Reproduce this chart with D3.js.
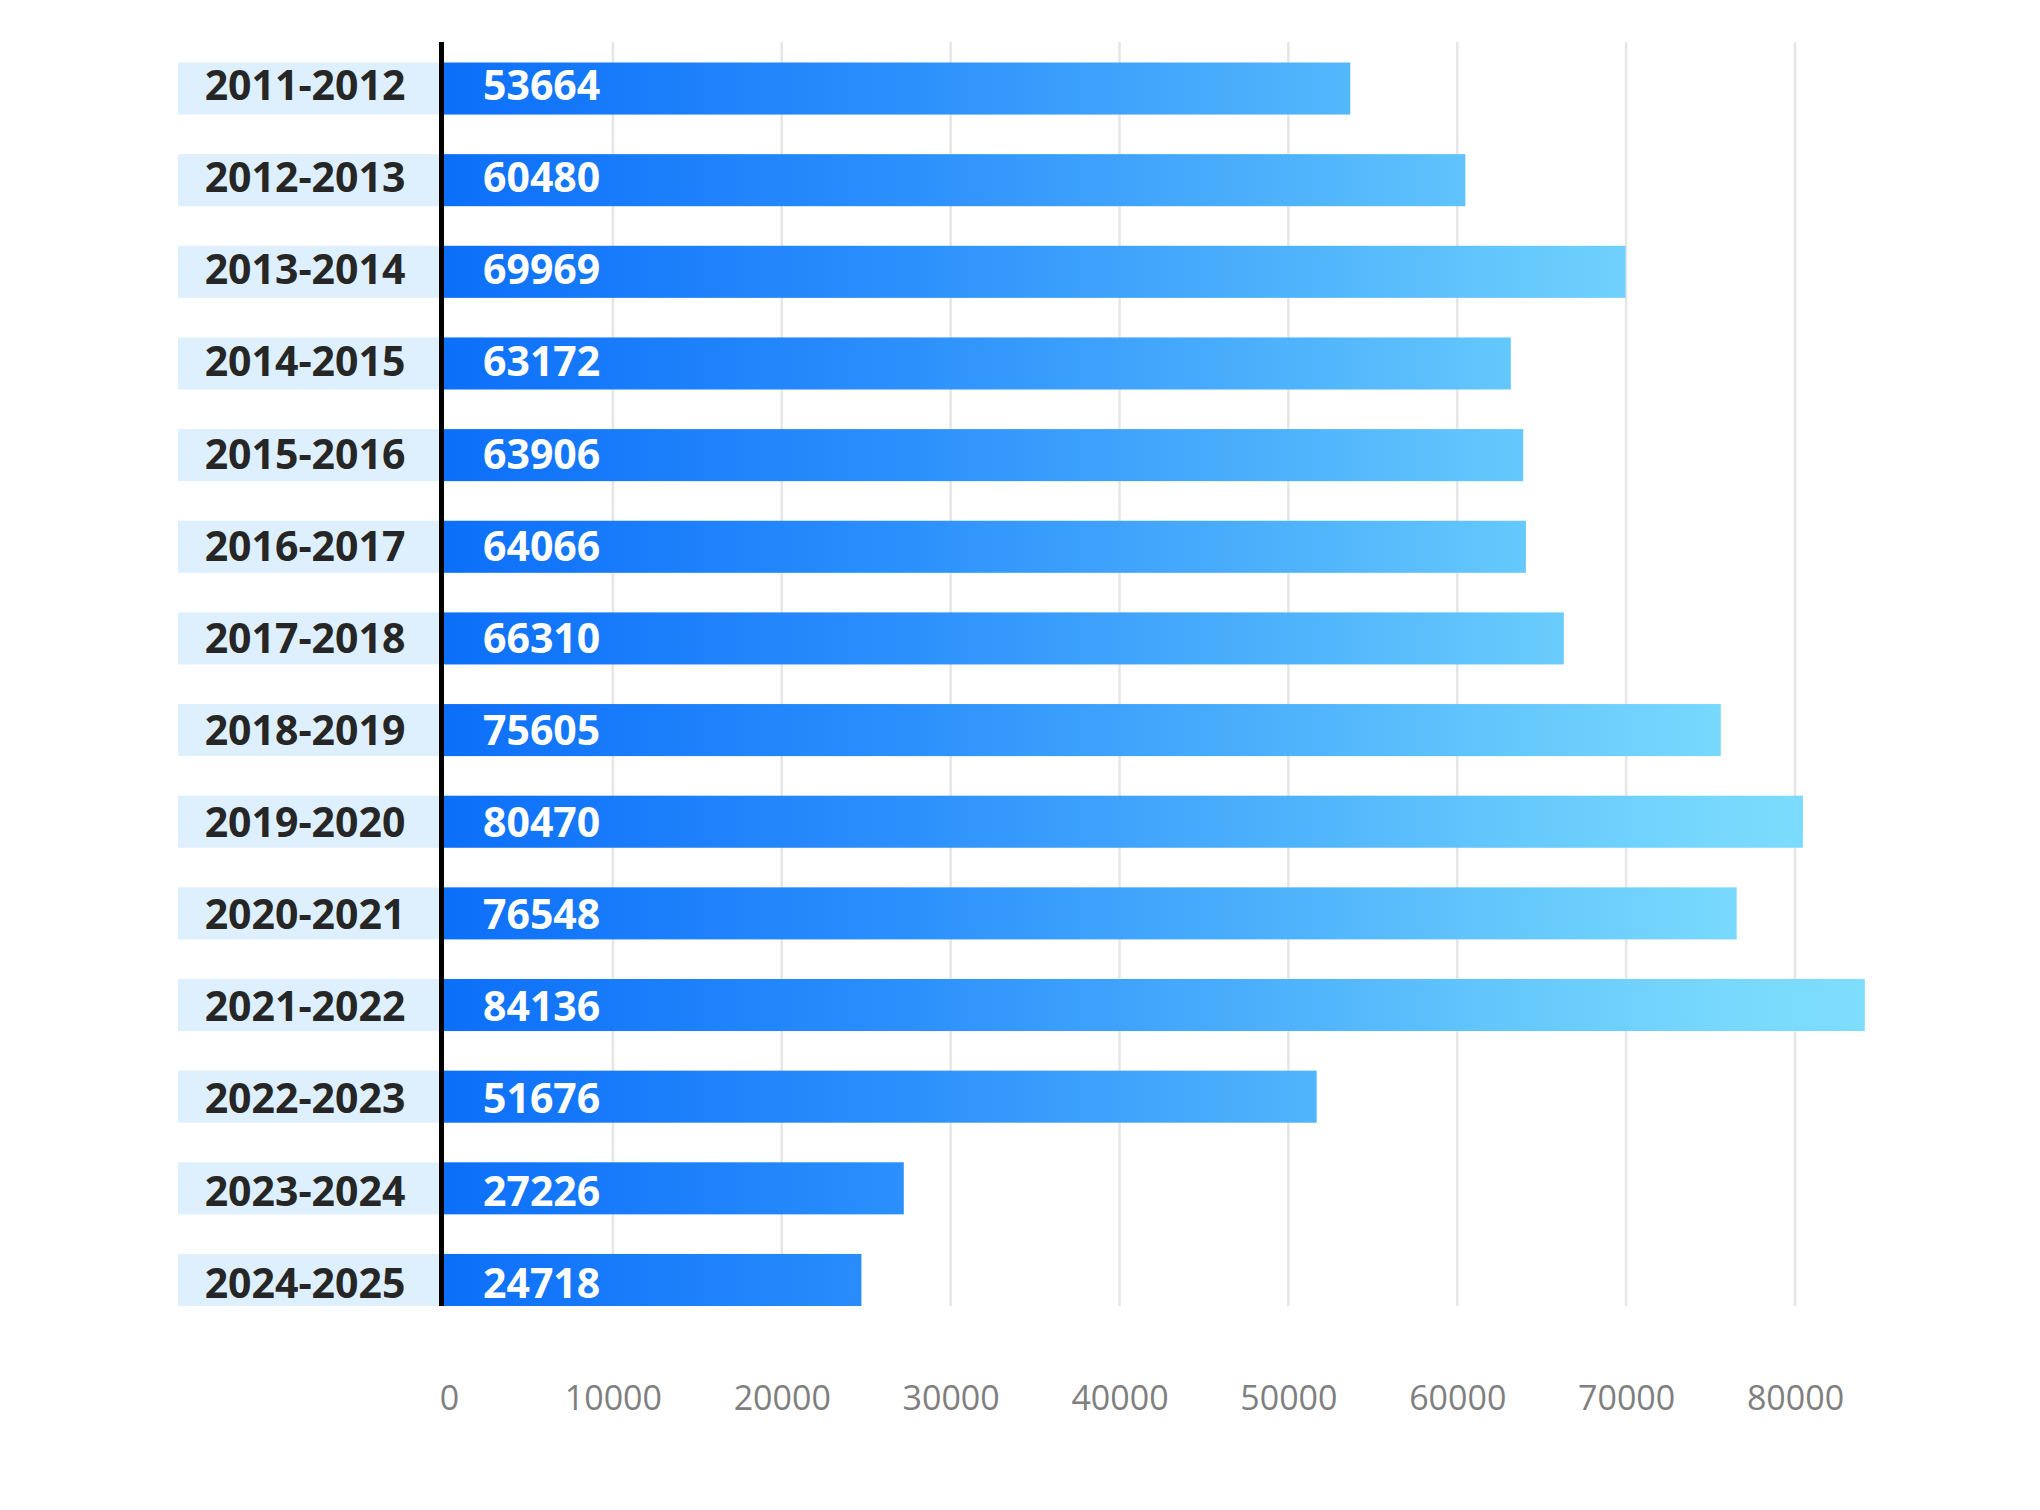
<!DOCTYPE html>
<html>
<head>
<meta charset="utf-8">
<script src="https://cdn.jsdelivr.net/npm/d3@7"></script>
<style>
	body { margin: 0; background: #fff; }
	svg { display: block; }
</style>
</head>
<body>
<svg id="svg" width="2040" height="1510"></svg>
<script>
const $svg = d3.select('#svg')

const seasons = [
	'2011-2012', '2012-2013', '2013-2014', '2014-2015', '2015-2016',
	'2016-2017', '2017-2018', '2018-2019', '2019-2020', '2020-2021',
	'2021-2022', '2022-2023', '2023-2024', '2024-2025'
]
const values = [
	53664, 60480, 69969, 63172, 63906,
	64066, 66310, 75605, 80470, 76548,
	84136, 51676, 27226, 24718
]
const xTicks = [0, 10000, 20000, 30000, 40000, 50000, 60000, 70000, 80000]

const font = '"Open Sans", "Noto Sans", sans-serif'

const scaleX = d3.scaleLinear()
	.domain([0, 80000])
	.range([444, 1795])

const scaleY = d3.scaleBand()
	.domain(seasons)
	.range([42.7, 1325.8])
	.paddingInner(0.432)
	.paddingOuter(0.216)

// the texts sit on a slightly wider step than the bars
const labelY = d3.scaleBand()
	.domain(seasons)
	.range([38.9, 1328.8])

const textY = d => labelY(d) + labelY.bandwidth() / 2 + 15

const plotTop = 42
const plotBottom = scaleY(seasons[seasons.length - 1]) + scaleY.bandwidth()

// gradient runs across the whole plot, so short bars stay darker
const defs = $svg.append('defs')
const grad = defs.append('linearGradient')
	.attr('id', 'barGrad')
	.attr('gradientUnits', 'userSpaceOnUse')
	.attr('x1', scaleX(0))
	.attr('x2', scaleX(84136))
	.attr('y1', 0)
	.attr('y2', 0)
const stops = [
	[0, '#0c6ff9'],
	[0.32, '#2b8ffc'],
	[0.6, '#4fb3fc'],
	[0.76, '#66c9fc'],
	[0.9, '#78d8fd'],
	[1, '#7fdefd']
]
stops.forEach(([o, c]) => {
	grad.append('stop').attr('offset', o).attr('stop-color', c)
})

// gridlines
$svg.append('g')
	.selectAll('line')
	.data(xTicks.slice(1))
	.join('line')
	.attr('x1', d => scaleX(d))
	.attr('x2', d => scaleX(d))
	.attr('y1', plotTop)
	.attr('y2', plotBottom)
	.attr('stroke', '#e6e6e6')
	.attr('stroke-width', 2.5)

// x axis labels
const xAxis = d3.axisBottom(scaleX)
	.tickValues(xTicks)
	.tickSize(0)
	.tickPadding(0)
	.tickFormat(d3.format('d'))
const $xAxis = $svg.append('g')
	.attr('transform', 'translate(0, 1410)')
	.call(xAxis)
$xAxis.select('.domain').remove()
$xAxis.selectAll('text')
	.attr('dy', 0)
	.attr('y', 0)
	.attr('x', d => d === 0 ? 5 : 0)
	.attr('font-family', font)
	.attr('font-size', 34)
	.attr('fill', '#7f7f7f')

// category label backgrounds
$svg.append('g')
	.selectAll('rect')
	.data(seasons)
	.join('rect')
	.attr('x', 178)
	.attr('width', 261)
	.attr('y', d => scaleY(d))
	.attr('height', scaleY.bandwidth())
	.attr('fill', '#def0fd')

$svg.append('g')
	.selectAll('text')
	.data(seasons)
	.join('text')
	.attr('x', 305)
	.attr('y', d => textY(d))
	.attr('text-anchor', 'middle')
	.attr('font-family', font)
	.attr('font-weight', 'bold')
	.attr('font-size', 41)
	.attr('fill', '#262626')
	.text(d => d)

// bars
const rows = seasons.map((s, i) => ({ season: s, value: values[i] }))
$svg.append('g')
	.selectAll('rect')
	.data(rows)
	.join('rect')
	.attr('x', scaleX(0))
	.attr('y', d => scaleY(d.season))
	.attr('width', d => scaleX(d.value) - scaleX(0))
	.attr('height', scaleY.bandwidth())
	.attr('fill', 'url(#barGrad)')

$svg.append('g')
	.selectAll('text')
	.data(rows)
	.join('text')
	.attr('x', scaleX(0) + 39)
	.attr('y', d => textY(d.season))
	.attr('font-family', font)
	.attr('font-weight', 'bold')
	.attr('font-size', 41)
	.attr('fill', '#ffffff')
	.text(d => d.value)

// black baseline
$svg.append('line')
	.attr('x1', scaleX(0) - 2.5)
	.attr('x2', scaleX(0) - 2.5)
	.attr('y1', plotTop)
	.attr('y2', plotBottom)
	.attr('stroke', '#000')
	.attr('stroke-width', 5)
</script>
</body>
</html>
